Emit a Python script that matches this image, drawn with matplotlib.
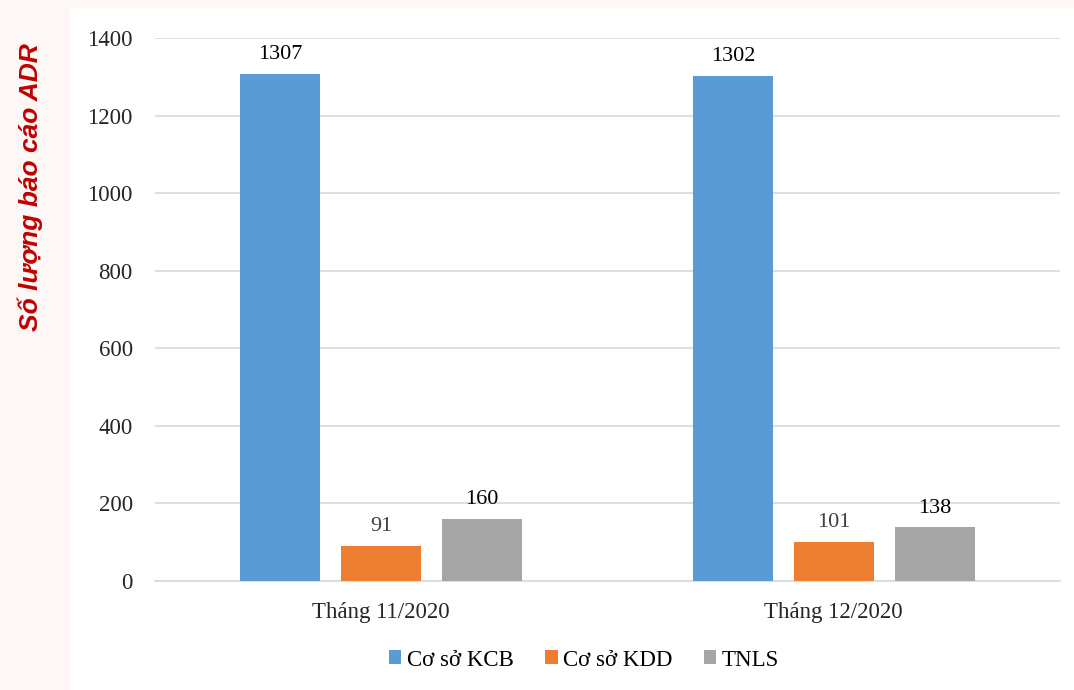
import matplotlib.pyplot as plt
import numpy as np
from matplotlib.patches import Rectangle

months = ['Tháng 11/2020', 'Tháng 12/2020']
series = ['Cơ sở KCB', 'Cơ sở KDD', 'TNLS']
kcb = [1307, 1302]
kdd = [91, 101]
tnls = [160, 138]
colors = ['#5b9bd5', '#ed7d31', '#a5a5a5']
label_colors = ['#000000', '#404040', '#000000']

fig = plt.figure(figsize=(10.74, 6.9), dpi=100)
fig.patch.set_facecolor('#fdf7f6')
# white panel behind the chart
fig.patches.append(Rectangle((70 / 1074, 0), 1 - 70 / 1074, 1 - 8 / 690,
                             transform=fig.transFigure, facecolor='white',
                             edgecolor='none', zorder=-5))

ax = fig.add_axes([155 / 1074, (690 - 581) / 690, (1060 - 155) / 1074, (581 - 38) / 690])
ax.set_facecolor('none')
ax.set_zorder(2)

x = np.arange(len(months))
w = 0.177
off = 0.223
for i, (vals, c) in enumerate(zip([kcb, kdd, tnls], colors)):
    pos = x + (i - 1) * off
    ax.bar(pos, vals, width=w, color=c, label=series[i], zorder=3)
    for p, v in zip(pos, vals):
        ax.text(p, v + 25, str(v), ha='center', va='bottom', fontsize=16,
                family='Liberation Serif', color=label_colors[i])

ax.set_xlim(-0.5, 1.5)
ax.set_ylim(0, 1400)
ax.set_yticks(range(0, 1401, 200))
ax.set_xticks(x)
ax.set_xticklabels(months)
ax.yaxis.grid(True, color='#d9d9d9', linewidth=1.2, zorder=0)
ax.tick_params(axis='both', length=0, labelsize=16.5, colors='#262626')
ax.tick_params(axis='y', pad=16)
ax.tick_params(axis='x', pad=15)
for lab in ax.get_xticklabels() + ax.get_yticklabels():
    lab.set_family('Liberation Serif')
for s in ['top', 'right', 'left']:
    ax.spines[s].set_visible(False)
ax.spines['bottom'].set_color('#d9d9d9')
ax.spines['bottom'].set_linewidth(1.2)

fig.text(30 / 1074, 1 - 187 / 690, 'Số lượng báo cáo ADR', rotation=90,
         ha='center', va='center', fontsize=19, fontweight='bold',
         fontstyle='italic', color='#c00000', family='Liberation Sans')

leg = fig.legend(loc='center', bbox_to_anchor=(584 / 1074, 1 - 660 / 690), ncol=3,
                 frameon=False, handlelength=0.55, handleheight=0.55,
                 handletextpad=0.25, columnspacing=1.35,
                 prop={'family': 'Liberation Serif', 'size': 16.5})

fig.savefig('out.png', dpi=100, facecolor=fig.get_facecolor())
